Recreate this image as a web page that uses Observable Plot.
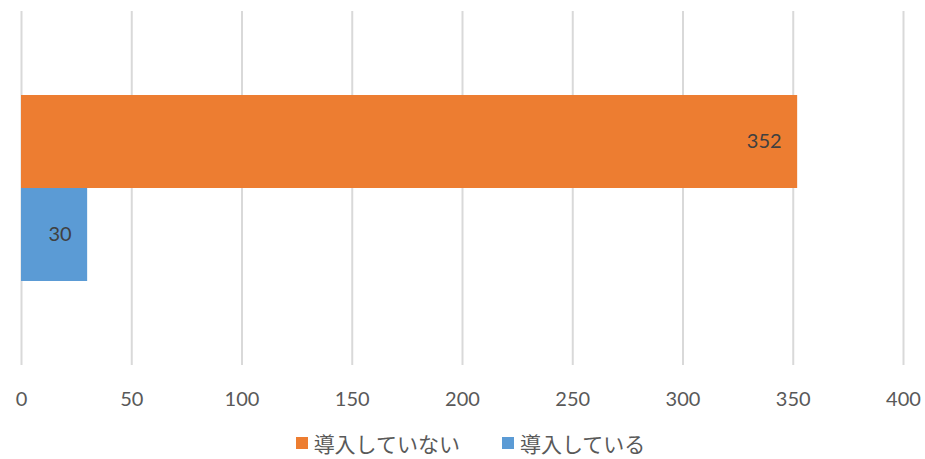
<!DOCTYPE html>
<html>
<head>
<meta charset="utf-8">
<script src="https://cdn.jsdelivr.net/npm/d3@7"></script>
<script src="https://cdn.jsdelivr.net/npm/@observablehq/plot@0.6"></script>
<style>
  html, body { margin: 0; padding: 0; background: #fff; }
  #chart { width: 925px; height: 428px; }
  .legend { width: 925px; height: 30px; display: flex; justify-content: center; align-items: center;
    font-family: "Noto Sans CJK JP", sans-serif; font-size: 21px; line-height: 1; color: #595959;
    padding-left: 16px; box-sizing: border-box; }
  .legend .item { display: flex; align-items: center; margin: 0 21px; }
  .legend .sw { width: 12px; height: 12px; margin-right: 6px; display: inline-block; }
</style>
</head>
<body>
<div id="chart"></div>
<script>
const categories = ["導入していない", "導入している"];
const values = [352, 30];
const colors = ["#ED7D31", "#5B9BD5"];
const xTicks = [0, 50, 100, 150, 200, 250, 300, 350, 400];

const data = categories.map((c, i) => ({category: c, value: values[i], color: colors[i]}));

const plot = Plot.plot({
  width: 925,
  height: 428,
  marginTop: 11,
  marginBottom: 63,
  marginLeft: 21,
  marginRight: 22,
  style: {fontFamily: "Lato, 'Open Sans', sans-serif", fontSize: "20px", color: "#595959", background: "#fff"},
  x: {domain: [0, 400], ticks: xTicks, label: null},
  y: {domain: categories, paddingInner: 0, paddingOuter: 0.903, axis: null},
  marks: [
    Plot.ruleX(xTicks, {stroke: "#d9d9d9", strokeWidth: 2}),
    Plot.barX(data, {y: "category", x: "value", fill: "color"}),
    Plot.text(data, {y: "category", x: "value", text: d => String(d.value), textAnchor: "end", dx: -16, fill: "#404040", fontSize: 20}),
    Plot.axisX({ticks: xTicks, tickSize: 0, tickPadding: 26, fontSize: 20, fill: "#595959", label: null})
  ]
});
document.getElementById("chart").appendChild(plot);

const legend = document.createElement("div");
legend.className = "legend";
categories.forEach((c, i) => {
  const item = document.createElement("span");
  item.className = "item";
  const sw = document.createElement("span");
  sw.className = "sw";
  sw.style.background = colors[i];
  const lab = document.createElement("span");
  lab.textContent = c;
  item.appendChild(sw);
  item.appendChild(lab);
  legend.appendChild(item);
});
document.body.appendChild(legend);
</script>
</body>
</html>
